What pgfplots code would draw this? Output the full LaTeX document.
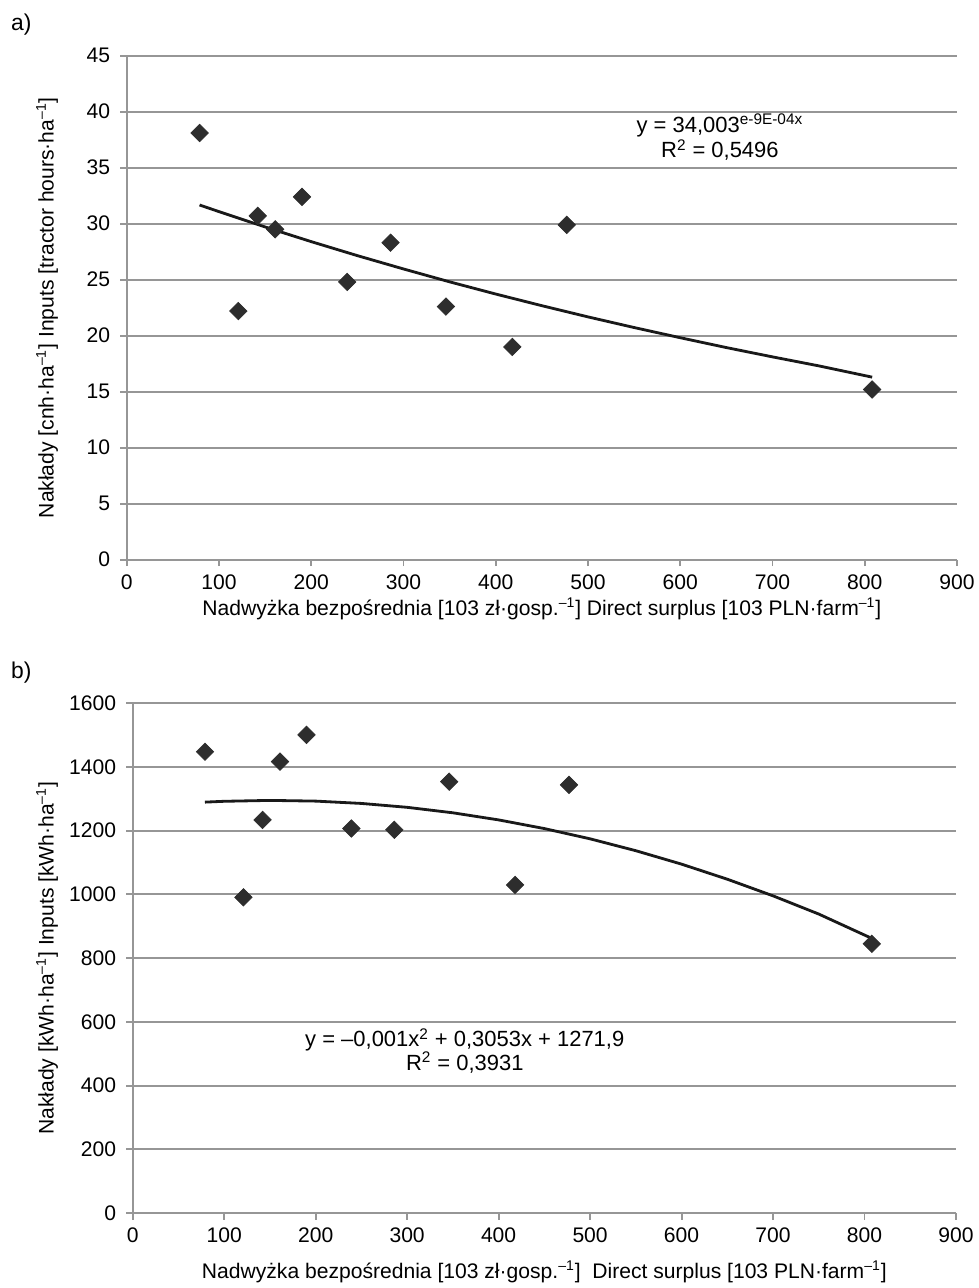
\documentclass[border=0pt]{standalone}
\usepackage{fontspec}
\setmainfont{Liberation Sans}
\usepackage{pgfplots}
\pgfplotsset{compat=1.18}

\definecolor{gridgray}{RGB}{150,150,150}
\definecolor{markgray}{RGB}{45,45,45}
\definecolor{trendblack}{RGB}{25,25,25}

\pgfplotsset{
  panel/.style={
    scale only axis,
    axis x line*=bottom,
    axis y line*=left,
    axis line style={gridgray, line width=1.1pt, -},
    ymajorgrids,
    grid style={gridgray, line width=1.1pt},
    xmin=0, xmax=900,
    xtick={0,100,...,900},
    tick align=outside,
    major tick length=0.13cm,
    tick style={gridgray, line width=1.1pt},
    ticklabel style={font=\fontsize{12}{14}\selectfont},
    yticklabel style={xshift=-0.08cm},
    xticklabel style={yshift=-0.04cm},
    /pgf/number format/assume math mode=true,
    /pgf/number format/1000 sep={},
    label style={font=\fontsize{12}{14}\selectfont},
    clip=false,
  },
  pts/.style={only marks, mark=square*, mark size=3.5pt,
    mark options={rotate=45, fill=markgray, draw=markgray}},
  trend/.style={no marks, trendblack, line width=1.6pt},
}

\begin{document}
\begin{tikzpicture}
\path[use as bounding box] (0,0) rectangle (19.56,-25.76);

\node[anchor=west, font=\fontsize{13}{14}\selectfont] at (0.1,-0.5) {a)};
\node[anchor=west, font=\fontsize{13}{14}\selectfont] at (0.1,-13.46) {b)};

% panel a
\begin{axis}[panel,
  at={(2.534cm,-11.194cm)}, anchor=south west,
  width=16.606cm, height=10.08cm,
  ymin=0, ymax=45, ytick={0,5,...,45},
  xlabel={Nadwyżka bezpośrednia [103 zł·gosp.\textsuperscript{–1}] Direct surplus [103 PLN·farm\textsuperscript{–1}]},
  ylabel={Nakłady [cnh·ha\textsuperscript{–1}] Inputs [tractor hours·ha\textsuperscript{–1}]},
  xlabel style={at={(axis description cs:0.5,-0.098)}, anchor=center},
  ylabel style={at={(axis description cs:-0.0958,0.5)}, anchor=center},
]
\addplot[pts] coordinates {
  (79,38.1) (121,22.2) (142,30.7) (161,29.5) (190,32.4) (239,24.8)
  (286,28.3) (346,22.6) (418,19.0) (477,29.9) (808,15.2)
};
\addplot[trend] coordinates {
  (79,31.67) (100,31.08) (150,29.71) (200,28.40) (250,27.15) (300,25.96)
  (350,24.81) (400,23.72) (450,22.68) (500,21.68) (550,20.73) (600,19.82)
  (650,18.94) (700,18.11) (750,17.31) (808,16.3)
};
\node[align=center, font=\fontsize{12.5}{14.5}\selectfont] at (axis cs:643,37.7)
  {y = 34,003\textsuperscript{e-9E-04x}\\R\textsuperscript{2} = 0,5496};
\end{axis}

% panel b
\begin{axis}[panel,
  at={(2.654cm,-24.26cm)}, anchor=south west,
  width=16.466cm, height=10.194cm,
  ymin=0, ymax=1600, ytick={0,200,...,1600},
  xlabel={Nadwyżka bezpośrednia [103 zł·gosp.\textsuperscript{–1}]\ \ Direct surplus [103 PLN·farm\textsuperscript{–1}]},
  ylabel={Nakłady [kWh·ha\textsuperscript{–1}] Inputs [kWh·ha\textsuperscript{–1}]},
  xlabel style={at={(axis description cs:0.5,-0.116)}, anchor=center},
  ylabel style={at={(axis description cs:-0.104,0.5)}, anchor=center},
]
\addplot[pts] coordinates {
  (79,1448) (121,991) (142,1234) (161,1417) (190,1501) (239,1207)
  (286,1203) (346,1354) (418,1030) (477,1344) (808,845)
};
\addplot[trend] coordinates {
  (79,1289.8) (100,1292.4) (150,1295.2) (200,1293.0) (250,1285.7) (300,1273.5)
  (350,1256.3) (400,1234.0) (450,1206.8) (500,1174.6) (550,1137.3) (600,1095.1)
  (650,1047.8) (700,995.6) (750,938.4) (808,862)
};
\node[align=center, font=\fontsize{12.5}{13.5}\selectfont] at (axis cs:363,509)
  {y = –0,001x\textsuperscript{2} + 0,3053x + 1271,9\\R\textsuperscript{2} = 0,3931};
\end{axis}
\end{tikzpicture}
\end{document}
